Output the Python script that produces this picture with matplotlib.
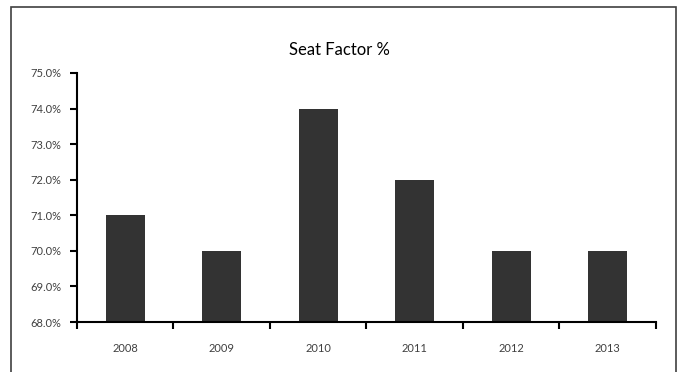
import numpy as np
import matplotlib
matplotlib.use("Agg")
import matplotlib.pyplot as plt
from matplotlib.patches import Rectangle

years = ["2008", "2009", "2010", "2011", "2012", "2013"]
seat_factor = [71.0, 70.0, 74.0, 72.0, 70.0, 70.0]
y_ticks = [68, 69, 70, 71, 72, 73, 74, 75]

plt.rcParams['font.family'] = ['Lato', 'DejaVu Sans']

fig = plt.figure(figsize=(6.79, 3.72), dpi=100)
ax = fig.add_axes([0.1134, 0.1344, 0.8527, 0.6694])

x = np.arange(len(years))
ax.bar(x, [v - 68 for v in seat_factor], bottom=68, width=0.4, color="#333333")

ax.set_ylim(68, 75)
ax.set_xlim(-0.5, len(years) - 0.5)
ax.set_yticks(y_ticks)
ax.set_yticklabels(["%.1f%%" % t for t in y_ticks], fontsize=8, color="#404040")

# ticks between categories, labels at centres
ax.set_xticks(np.arange(-0.5, len(years), 1))
ax.set_xticklabels([])
ax.set_xticks(x, minor=True)
ax.set_xticklabels(years, minor=True, fontsize=8, color="#404040")
ax.tick_params(axis="x", which="major", direction="out", length=5, width=1.5)
ax.tick_params(axis="x", which="minor", length=0, pad=15)
ax.tick_params(axis="y", direction="out", length=5, width=1.5, pad=6)

ax.spines["top"].set_visible(False)
ax.spines["right"].set_visible(False)
ax.spines["left"].set_linewidth(1.5)
ax.spines["bottom"].set_linewidth(1.5)

fig.text(0.5, 0.865, "Seat Factor %", ha="center", va="center", fontsize=12, color="#000000")

# outer chart border (bottom edge falls off the image)
border = Rectangle((11 / 679, -0.05), (676 - 11) / 679, 1 - 7 / 372 + 0.05,
                   transform=fig.transFigure, fill=False, edgecolor="#404040",
                   linewidth=1.2, clip_on=False)
fig.patches.append(border)

fig.savefig("out.png", dpi=100)
